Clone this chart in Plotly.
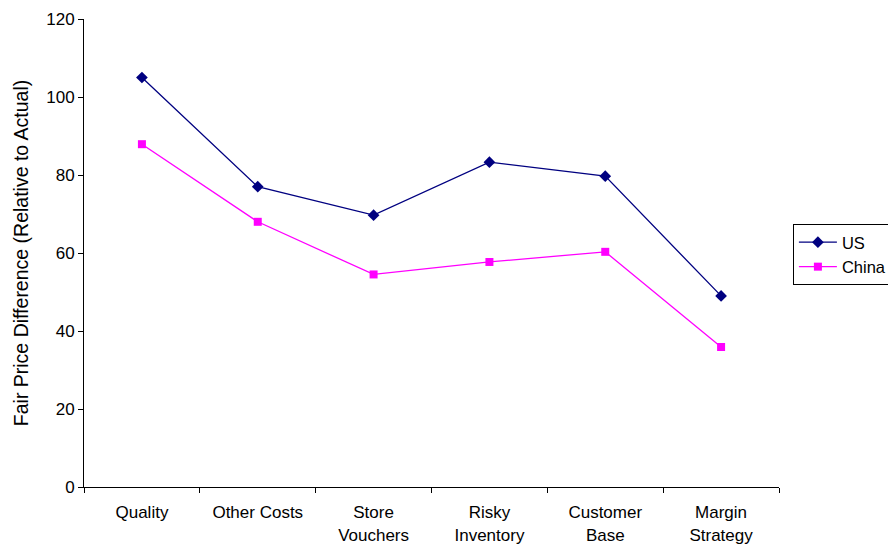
import plotly.graph_objects as go

categories = ["Quality", "Other Costs", "Store<br>Vouchers", "Risky<br>Inventory", "Customer<br>Base", "Margin<br>Strategy"]
us_values = [105.0, 77.0, 69.7, 83.3, 79.7, 49.0]
china_values = [87.9, 68.0, 54.5, 57.7, 60.3, 35.9]
y_ticks = [0, 20, 40, 60, 80, 100, 120]

font_family = "Liberation Sans, Arial, sans-serif"

fig = go.Figure()
fig.add_trace(go.Scatter(
    x=categories, y=us_values, name="US", mode="lines+markers",
    line=dict(color="#000080", width=1.3),
    marker=dict(symbol="diamond", size=9, color="#000080"),
))
fig.add_trace(go.Scatter(
    x=categories, y=china_values, name="China", mode="lines+markers",
    line=dict(color="#FF00FF", width=1.3),
    marker=dict(symbol="square", size=8, color="#FF00FF"),
))

fig.update_layout(
    width=888, height=548,
    margin=dict(l=84, r=109, t=19, b=61, autoexpand=False),
    paper_bgcolor="white", plot_bgcolor="white",
    font=dict(family=font_family, size=17, color="black"),
    showlegend=True,
    legend=dict(
        x=1.02, y=0.562, xanchor="left", yanchor="top",
        bordercolor="black", borderwidth=1, bgcolor="white",
        font=dict(size=16.5), tracegroupgap=0, itemwidth=38,
    ),
    xaxis=dict(
        type="category", range=[-0.5, 5.5], automargin=False,
        showline=True, linecolor="black", linewidth=1,
        showgrid=False, zeroline=False,
        ticks="outside", ticklen=10, tickcolor="rgba(0,0,0,0)",
        tickfont=dict(size=17),
    ),
    yaxis=dict(
        range=[0, 120], tickvals=y_ticks, automargin=False,
        showline=True, linecolor="black", linewidth=1,
        showgrid=False, zeroline=False,
        ticks="outside", ticklen=5, tickcolor="black",
        tickfont=dict(size=17),
        title=dict(text="Fair Price Difference (Relative to Actual)", font=dict(size=19.5), standoff=12),
    ),
)

# category boundary tick marks on x axis
fig.add_trace(go.Scatter(
    x=[None], y=[None], showlegend=False, hoverinfo="skip", xaxis="x2"
))
fig.update_layout(
    xaxis2=dict(
        overlaying="x", range=[-0.5, 5.5], tickvals=[-0.5, 0.5, 1.5, 2.5, 3.5, 4.5, 5.5],
        ticks="outside", ticklen=5, tickcolor="black", showticklabels=False,
        showgrid=False, zeroline=False, showline=False, side="bottom", automargin=False,
    )
)

fig.write_html("out.html")
